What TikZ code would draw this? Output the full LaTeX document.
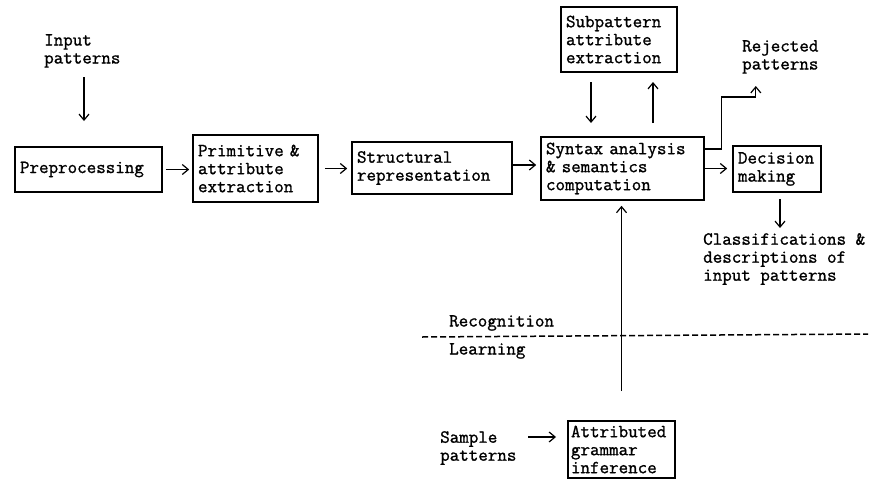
\documentclass[tikz,border=0pt]{standalone}
\usepackage{fontspec}
\newfontfamily\tw{Latin Modern Mono}[FakeBold=1.2]
\usetikzlibrary{arrows.meta}
\begin{document}
\begin{tikzpicture}[x=1pt,y=-1pt,
 every node/.style={font=\tw\fontsize{18.5}{18}\selectfont},
 box/.style={draw,line width=1.6pt,align=left,inner xsep=5pt,inner ysep=2pt},
 lbl/.style={align=left,inner sep=0pt,anchor=north west},
 arr/.style={line width=1.2pt,-{Straight Barb[length=6pt,width=10pt]}}]
\useasboundingbox (0,0) rectangle (874,479);
% boxes
\node[box,text width=137pt,minimum height=45pt] (prep) at (88.5,169.5) {Preprocessing};
\node[box,text width=115pt,minimum height=67pt] (prim) at (255.5,168.5) {Primitive \&\\attribute\\extraction};
\node[box,text width=150pt,minimum height=52pt] (struct) at (432,168) {Structural\\representation};
\node[box,text width=153pt,minimum height=63pt] (syn) at (622.5,168.5) {Syntax analysis\\\& semantics\\computation};
\node[box,text width=106pt,minimum height=65pt] (sub) at (619,39.5) {Subpattern\\attribute\\extraction};
\node[box,text width=78pt,minimum height=46pt] (dec) at (777,169) {Decision\\making};
\node[box,text width=101pt,minimum height=57pt,inner xsep=3pt] (attr) at (621.5,449.5) {Attributed\\grammar\\inference};
% labels
\node[lbl] (inp) at (44,34) {Input\\patterns};
\node[lbl] (rej) at (742,40) {Rejected\\patterns};
\node[lbl] (cls) at (703,233) {Classifications \&\\descriptions of\\input patterns};
\node[lbl] (rec) at (449,315) {Recognition};
\node[lbl] (lrn) at (449,343) {Learning};
\node[lbl] (samp) at (440,431) {Sample\\patterns};
% coordinates
\coordinate (i1) at (84,77);
\coordinate (i2) at (84,121);
\coordinate (s1) at (591,82);
\coordinate (s2) at (591,123);
\coordinate (u1) at (653,123);
\coordinate (u2) at (653,82);
\coordinate (d1) at (780,199);
\coordinate (d2) at (780,228);
\coordinate (p1) at (528,437);
\coordinate (p2) at (556,437);
\coordinate (dl) at (422,337);
\coordinate (dr) at (868,334);
% connectors
\draw[arr] (i1) -- (i2);
\draw[arr] ([xshift=3pt]prep.east) -- ([xshift=-3pt]prep.east -| prim.west);
\draw[arr] ([xshift=6pt]prim.east) -- ([xshift=-4pt]prim.east -| struct.west);
\draw[arr] ([yshift=3pt]struct.east) -- ([xshift=-4pt,yshift=3pt]struct.east -| syn.west);
\draw[arr] (syn.east) -- ([xshift=-5pt]syn.east -| dec.west);
\draw[arr] (s1) -- (s2);
\draw[arr] (u1) -- (u2);
\draw[arr] ([yshift=19.5pt]syn.east) -- ++(17,0) -- ++(0,-52) -- ++(34,0) -- ++(0,-11);
\draw[arr] (d1) -- (d2);
\draw[arr,shorten <=29pt,shorten >=5pt] (attr.north) -- (attr.north |- syn.south);
\draw[arr] (p1) -- (p2);
\draw[line width=1.5pt,dash pattern=on 6pt off 3pt] (dl) -- (dr);
\end{tikzpicture}
\end{document}
